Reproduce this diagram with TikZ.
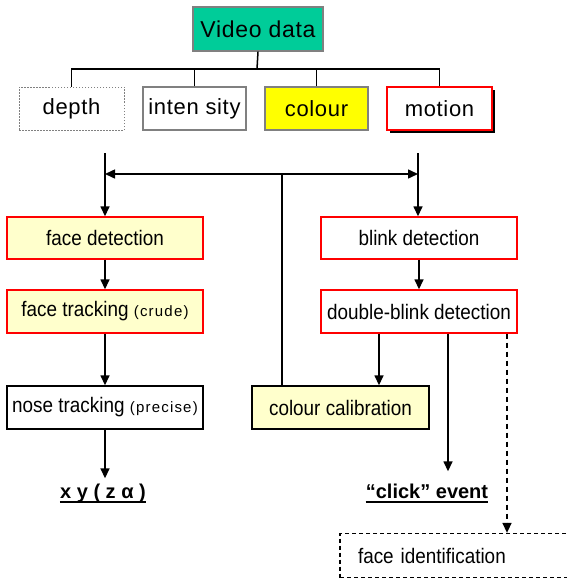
\documentclass[tikz,border=0pt]{standalone}
\usepackage{fontspec}
\setmainfont{Liberation Sans}
\newfontfamily\topfont[LetterSpace=3]{Liberation Sans}
\newfontfamily\midfont[FakeStretch=0.9]{Liberation Sans}
\newfontfamily\smallfont[LetterSpace=8]{Liberation Sans}
\usetikzlibrary{arrows.meta,shadows,calc}
\definecolor{teal1}{HTML}{00CC99}
\definecolor{lyel}{HTML}{FFFFCC}
\definecolor{yel}{HTML}{FFFF00}
\definecolor{gry}{HTML}{808080}
\definecolor{rd}{HTML}{FF0000}
\begin{document}
\begin{tikzpicture}[x=1pt,y=-1pt,
  box/.style={draw, line width=1.4pt, inner sep=0pt, minimum height=43pt, anchor=center},
  topbox/.style={box, font=\topfont\fontsize{22}{24}\selectfont},
  midbox/.style={box, font=\midfont\fontsize{21}{23}\selectfont, minimum width=196pt},
  redbox/.style={draw=rd},
  graybox/.style={draw=gry},
  link/.style={line width=1.5pt},
  arr/.style={link, -{Triangle[length=10pt,width=9pt]}},
  dash1/.style={dash pattern=on 5pt off 4pt},
  lbl/.style={font=\fontsize{20}{22}\selectfont\bfseries, inner sep=0pt, anchor=base},
  small/.style={}
]
\useasboundingbox (0,0) rectangle (567,578);
\clip (0,0) rectangle (567,578);

% top
\node[topbox, graybox, fill=teal1, minimum width=130pt, minimum height=44pt, font=\topfont\fontsize{23}{25}\selectfont] (video) at (258,29) {Video data};
\node[topbox, draw=gry, dash pattern=on 1.5pt off 1.5pt, line width=1pt, minimum width=105pt] (depth) at (71.5,108.5) {depth};
\node[topbox, graybox, minimum width=103pt] (intensity) at (194.5,108.5) {inten sity};
\node[topbox, graybox, fill=yel, minimum width=103pt] (colour) at (316.5,108.5) {colour};
\node[topbox, redbox, fill=white, minimum width=105pt, drop shadow={shadow xshift=3pt, shadow yshift=-3pt, opacity=1, fill=black}] (motion) at (439.5,108.5) {motion};

\coordinate (bus) at (257,69);
\draw[link] (video.south) -- (bus);
\draw[link] (depth.north) |- (bus) -| (motion.north);
\draw[link] (intensity.north) -- (intensity.north |- bus);
\draw[link] (colour.north) -- (colour.north |- bus);

% middle
\node[midbox, redbox, fill=lyel, minimum height=42pt] (facedet) at (105,238) {face detection};
\node[midbox, redbox, fill=white, minimum height=42pt] (blink) at (419,238) {blink detection};
\node[midbox, redbox, fill=lyel] (facetrack) at (105,311.5) {face tracking {\smallfont\fontsize{15}{17}\selectfont (crude)}};
\node[midbox, redbox, fill=white] (dblink) at (419,311.5) {double-blink detection};
\node[midbox, draw=black, fill=white] (nose) at (105,407.5) {nose tracking {\smallfont\fontsize{15}{17}\selectfont (precise)}};
\node[midbox, draw=black, fill=lyel, minimum width=177pt] (calib) at (340.5,407.5) {colour calibration};

\coordinate (lt) at (105,153);
\coordinate (rt) at (418,153);
\draw[arr] (lt) -- (facedet.north);
\draw[arr] (rt) -- (rt |- blink.north);

\coordinate (hubbase) at ($(calib.north)+(-58.5,0)$);
\coordinate (hub) at (hubbase |- 0,174);
\draw[link] (hubbase) -- (hub);
\draw[arr] (hub) -- (lt |- hub);
\draw[arr] (hub) -- (rt |- hub);

\draw[arr] (facedet.south) -- (facetrack.north);
\draw[arr] (blink.south) -- (dblink.north);
\draw[arr] (facetrack.south) -- (nose.north);

% labels
\node[lbl] (xy) at (103,498) {x y ( z α )};
\node[lbl] (click) at (427,498) {“click” event};
\draw[line width=1.3pt] ([yshift=-4pt]xy.base west) -- ([yshift=-4pt]xy.base east);
\draw[line width=1.3pt] ([yshift=-4pt]click.base west) -- ([yshift=-4pt]click.base east);

\draw[arr] (nose.south) -- ([yshift=5pt]nose.south |- xy.north);
\draw[arr] ([xshift=-40pt]dblink.south) -- ([xshift=-40pt]dblink.south |- calib.north);
\draw[arr] ([xshift=29pt]dblink.south) -- ([xshift=29pt,yshift=12pt]dblink.south |- click.north);

\node[draw, line width=1.3pt, dash pattern=on 4pt off 3pt, inner xsep=18pt, inner ysep=0pt, text width=209pt, align=left, minimum height=44pt, font=\midfont\fontsize{21}{23}\selectfont] (faceid) at (462.5,555.5) {face identification};
\draw[arr, dash1] ([xshift=88pt]dblink.south) -- ([xshift=88pt]dblink.south |- faceid.north);
\end{tikzpicture}
\end{document}
